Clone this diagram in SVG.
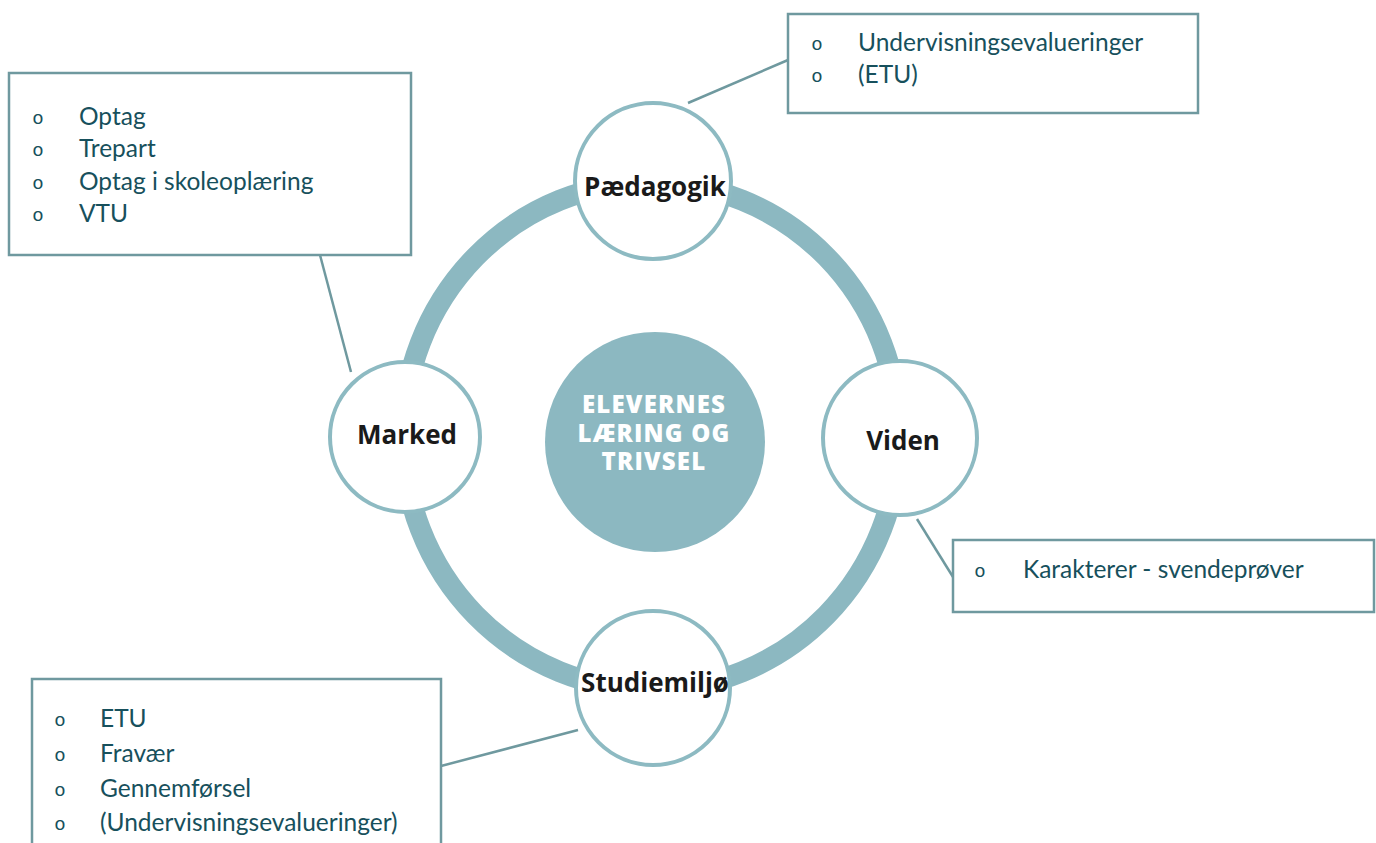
<svg xmlns="http://www.w3.org/2000/svg" width="1376" height="843" viewBox="0 0 1376 843">
<style>
.box{fill:#fff;stroke:#6f999f;stroke-width:2.5}
.con{stroke:#6f999f;stroke-width:2.5;fill:none}
.t{font-family:Lato,"Liberation Sans",sans-serif;font-size:24.5px;fill:#17505c}
.b{font-family:"Liberation Mono",monospace;font-size:19px;fill:#17505c;text-anchor:middle}
.node{fill:#fff;stroke:#8dbac2;stroke-width:4}
.nl{font-family:"Open Sans","Liberation Sans",sans-serif;font-weight:bold;font-size:26px;fill:#1a1a1a;text-anchor:middle}
.cl{font-family:"Open Sans","Liberation Sans",sans-serif;font-weight:800;font-size:24px;fill:#fff;text-anchor:middle;letter-spacing:1.2px}
</style>
<rect width="1376" height="843" fill="#fff"/>
<g id="ring">
<ellipse cx="651" cy="436" rx="248" ry="253.5" fill="none" stroke="#8cb8c1" stroke-width="21"/>
</g>
<g id="center">
<circle cx="655" cy="442" r="110" fill="#8cb8c1"/>
<text class="cl" x="654" y="413">ELEVERNES</text>
<text class="cl" x="654" y="442">LÆRING OG</text>
<text class="cl" x="654" y="470">TRIVSEL</text>
</g>
<g id="connectors">
<line class="con" x1="688" y1="103" x2="788" y2="60"/>
<line class="con" x1="320" y1="255" x2="351" y2="372"/>
<line class="con" x1="917" y1="519" x2="953" y2="577"/>
<line class="con" x1="441" y1="766" x2="578" y2="730"/>
</g>
<g id="paedagogik">
<circle class="node" cx="653" cy="181" r="78"/>
<text class="nl" x="655" y="196">Pædagogik</text>
</g>
<g id="marked">
<circle class="node" cx="405" cy="437" r="75"/>
<text class="nl" x="407" y="444">Marked</text>
</g>
<g id="viden">
<circle class="node" cx="900" cy="438" r="77"/>
<text class="nl" x="903" y="450">Viden</text>
</g>
<g id="studiemiljo">
<circle class="node" cx="653" cy="688" r="77"/>
<text class="nl" x="655" y="692">Studiemiljø</text>
</g>
<g id="box-marked">
<rect class="box" x="9" y="73" width="402" height="182"/>
<text class="b" x="38" y="124">o</text><text class="t" x="79" y="125">Optag</text>
<text class="b" x="38" y="156">o</text><text class="t" x="79" y="157">Trepart</text>
<text class="b" x="38" y="189">o</text><text class="t" x="79" y="190">Optag i skoleoplæring</text>
<text class="b" x="38" y="221">o</text><text class="t" x="79" y="222">VTU</text>
</g>
<g id="box-paedagogik">
<rect class="box" x="788" y="14" width="410" height="99"/>
<text class="b" x="817" y="50">o</text><text class="t" x="858" y="51">Undervisningsevalueringer</text>
<text class="b" x="817" y="82">o</text><text class="t" x="858" y="83">(ETU)</text>
</g>
<g id="box-viden">
<rect class="box" x="953" y="540" width="421" height="72"/>
<text class="b" x="980" y="577">o</text><text class="t" x="1023" y="578">Karakterer - svendeprøver</text>
</g>
<g id="box-studiemiljo">
<rect class="box" x="32" y="679" width="409" height="180"/>
<text class="b" x="60" y="726">o</text><text class="t" x="100" y="727">ETU</text>
<text class="b" x="60" y="761">o</text><text class="t" x="100" y="762">Fravær</text>
<text class="b" x="60" y="796">o</text><text class="t" x="100" y="797">Gennemførsel</text>
<text class="b" x="60" y="830">o</text><text class="t" x="100" y="831">(Undervisningsevalueringer)</text>
</g>
</svg>
